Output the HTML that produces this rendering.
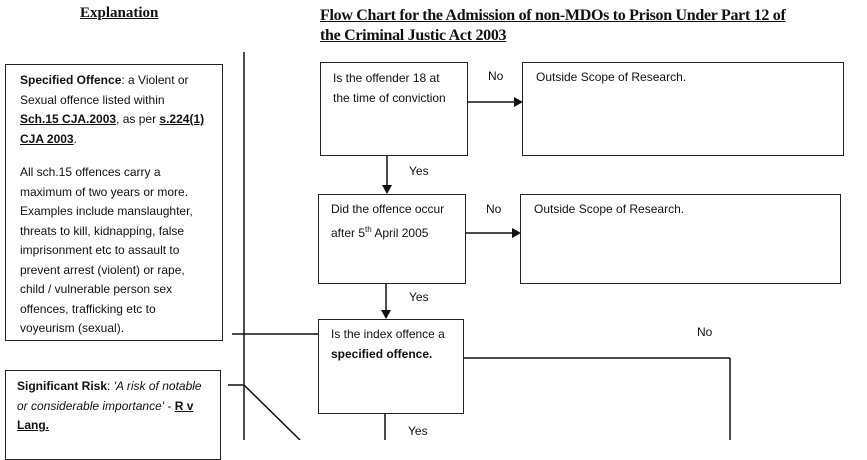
<!DOCTYPE html>
<html><head><meta charset="utf-8"><style>
body{margin:0;width:867px;height:440px;background:#fff;position:relative;overflow:hidden;font-family:"Liberation Sans",sans-serif;color:#111}
.a{position:absolute}
.box{position:absolute;border:1.5px solid #222;box-sizing:border-box}
.t{font-size:12px;line-height:19.5px}
.serif{font-family:"Liberation Serif",serif;font-weight:bold;font-size:15px;text-decoration:underline}
.lbl{position:absolute;font-size:12px}
</style></head><body>
<div class="a serif" style="left:80px;top:5px">Explanation</div>
<div class="a serif" style="left:320px;top:6px;line-height:20px;width:540px;font-size:16px;letter-spacing:-0.3px">Flow Chart for the Admission of non-MDOs to Prison Under Part 12 of<br>the Criminal Justic Act 2003</div>

<div class="box t" style="left:5px;top:64px;width:218px;height:277px;padding:6px 0 0 14px">
<b>Specified Offence</b>: a Violent or<br>Sexual offence listed within<br><b><u>Sch.15 CJA.2003</u></b>, as per <b><u>s.224(1)<br>CJA 2003</u></b>.<br><div style="height:14px"></div>All sch.15 offences carry a<br>maximum of two years or more.<br>Examples include manslaughter,<br>threats to kill, kidnapping, false<br>imprisonment etc to assault to<br>prevent arrest (violent) or rape,<br>child / vulnerable person sex<br>offences, trafficking etc to<br>voyeurism (sexual).</div>
<div class="box t" style="left:5px;top:370px;width:216px;height:90px;padding:6px 0 0 11px">
<b>Significant Risk</b>: <i>'A risk of notable<br>or considerable importance'</i> - <b><u>R v<br>Lang.</u></b></div>

<div class="box t" style="left:320px;top:62px;width:148px;height:94px;padding:6px 0 0 12px">Is the offender 18 at<br>the time of conviction</div>
<div class="box t" style="left:522px;top:62px;width:322px;height:94px;padding:5px 0 0 13px">Outside Scope of Research.</div>
<div class="box t" style="left:318px;top:194px;width:148px;height:90px;padding:5px 0 0 12px">Did the offence occur<br>after 5<sup style="font-size:8px">th</sup> April 2005</div>
<div class="box t" style="left:520px;top:194px;width:321px;height:90px;padding:5px 0 0 13px">Outside Scope of Research.</div>
<div class="box t" style="left:318px;top:319px;width:146px;height:95px;padding:5px 0 0 12px">Is the index offence a<br><b>specified offence.</b></div>

<div class="lbl" style="left:488px;top:69px">No</div>
<div class="lbl" style="left:486px;top:202px">No</div>
<div class="lbl" style="left:697px;top:325px">No</div>
<div class="lbl" style="left:409px;top:164px">Yes</div>
<div class="lbl" style="left:409px;top:290px">Yes</div>
<div class="lbl" style="left:408px;top:424px">Yes</div>

<svg class="a" style="left:0;top:0" width="867" height="440">
<g stroke="#111" stroke-width="1.5" fill="none">
<line x1="244" y1="52" x2="244" y2="440"/>
<line x1="232" y1="334" x2="318" y2="334"/>
<line x1="228" y1="385" x2="244" y2="385"/>
<line x1="244" y1="385" x2="300" y2="440"/>
<line x1="468" y1="102" x2="516" y2="102"/>
<line x1="466" y1="233" x2="514" y2="233"/>
<line x1="387" y1="156" x2="387" y2="186"/>
<line x1="386" y1="284" x2="386" y2="311"/>
<line x1="464" y1="358" x2="730" y2="358"/>
<line x1="730" y1="358" x2="730" y2="440"/>
<line x1="385" y1="414" x2="385" y2="440"/>
</g>
<g fill="#111">
<polygon points="523,102 514,97 514,107"/>
<polygon points="521,233 512,228 512,238"/>
<polygon points="387,194 382,185 392,185"/>
<polygon points="386,319 381,310 391,310"/>
</g>
</svg>
</body></html>
